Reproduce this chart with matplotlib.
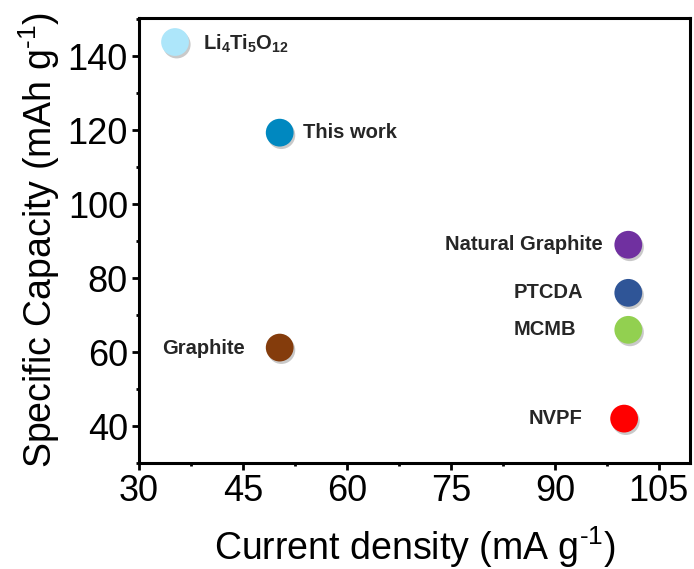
import matplotlib
matplotlib.use("Agg")
import matplotlib.pyplot as plt
import matplotlib.patheffects as pe
from matplotlib.ticker import MultipleLocator

plt.rcParams['font.family'] = ['Liberation Sans', 'DejaVu Sans']
plt.rcParams['mathtext.fontset'] = 'custom'
plt.rcParams['mathtext.rm'] = 'Liberation Sans'
plt.rcParams['mathtext.bf'] = 'Liberation Sans:bold'

# data
names = ['Li$_\\mathbf{4}$Ti$_\\mathbf{5}$O$_\\mathbf{12}$', 'This work', 'Natural Graphite',
         'PTCDA', 'MCMB', 'NVPF', 'Graphite']
current = [35.2, 50.3, 100.6, 100.6, 100.6, 100.0, 50.3]
capacity = [143.8, 119.3, 89.0, 76.0, 66.0, 42.0, 61.2]
colors = ['#ADE6FA', '#0088C0', '#7030A0', '#2F5597', '#92D050', '#FF0000', '#843C0C']

# label anchors (x, y, alignment)
label_x = [39.2, 53.6, 96.9, 94.1, 93.1, 94.0, 45.3]
label_y = [143.2, 119.3, 89.0, 76.0, 66.0, 42.0, 61.0]
label_ha = ['left', 'left', 'right', 'right', 'right', 'right', 'right']

fig = plt.figure(figsize=(6.94, 5.69), dpi=100)
ax = fig.add_axes([0.2003, 0.1863, 0.7939, 0.7821])

shadow = [pe.SimplePatchShadow(offset=(1.2, -1.8), shadow_rgbFace='#666666', alpha=0.35), pe.Normal()]
for xv, yv, c in zip(current, capacity, colors):
    ax.plot([xv], [yv], 'o', ms=20, mfc=c, mec='none', path_effects=shadow, zorder=3)

for n, lx, ly, ha in zip(names, label_x, label_y, label_ha):
    ax.text(lx, ly, n, ha=ha, va='center', fontsize=14.5, fontweight='bold', color='#262626')

ax.set_xlim(30, 109.5)
ax.set_ylim(30, 150.3)
ax.xaxis.set_major_locator(MultipleLocator(15))
ax.xaxis.set_minor_locator(MultipleLocator(7.5))
ax.yaxis.set_major_locator(MultipleLocator(20))
ax.yaxis.set_minor_locator(MultipleLocator(10))
ax.set_yticks([40, 60, 80, 100, 120, 140])

for s in ax.spines.values():
    s.set_linewidth(2.2)
ax.tick_params(which='major', direction='out', length=5, width=2, labelsize=26, pad=3,
               top=False, right=False)
ax.tick_params(which='minor', direction='out', length=2.5, width=2, top=False, right=False)

ax.set_xlabel('Current density (mA g$^{\\text{-1}}$)', fontsize=27, labelpad=11)
ax.set_ylabel('Specific Capacity (mAh g$^{\\text{-1}}$)', fontsize=27, labelpad=4)

fig.savefig('out.png', dpi=100)
